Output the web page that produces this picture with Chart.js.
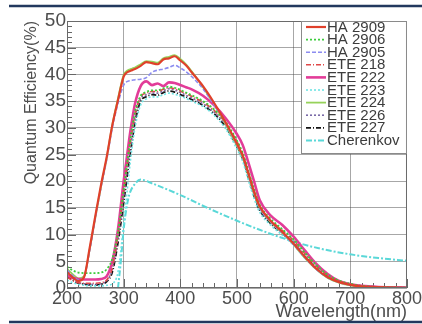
<!DOCTYPE html>
<html>
<head>
<meta charset="utf-8">
<script src="https://cdn.jsdelivr.net/npm/chart.js@4.4.0/dist/chart.umd.min.js"></script>
<style>
  html, body { margin: 0; padding: 0; background: #fff; }
  #wrap { width: 422px; height: 324px; }
</style>
</head>
<body>
<div id="wrap"><canvas id="qe-chart" width="422" height="324"></canvas></div>
<script>
// wavelength grid shared by the PMT curves (nm)
const wavelengths = [200, 210, 220, 230, 240, 250, 260, 270, 280, 290, 300, 305, 310, 315, 320, 330, 340, 350, 360, 370,
  380, 390, 400, 410, 420, 440, 460, 480, 500, 510, 520, 530, 540, 560, 580, 600, 620, 640, 660, 680, 700, 720, 750, 800];

const ha2909 = [3.0, 2.0, 1.3, 2.0, 7.5, 13.5, 19.3, 24.5, 30.5, 35.2, 39.6, 40.3, 40.6, 40.8, 41.0, 41.6, 42.3, 42.1, 41.9, 42.8,
  43.0, 43.4, 42.6, 41.7, 40.4, 37.8, 34.6, 31.0, 27.0, 24.8, 21.5, 18.0, 15.3, 12.5, 10.5, 8.3, 5.8, 3.6, 2.0, 1.1, 0.6, 0.3, 0.15, 0.05];
const ha2906 = [4.0, 3.3, 2.9, 2.8, 2.8, 2.8, 2.9, 3.5, 5.5, 10.5, 18.5, 22.5, 26.5, 30.0, 33.0, 36.0, 36.7, 37.0, 37.0, 37.4,
  37.7, 37.5, 37.1, 36.6, 36.1, 35.0, 33.4, 31.1, 27.6, 25.3, 22.0, 18.5, 15.6, 12.9, 11.0, 9.1, 6.6, 4.3, 2.5, 1.4, 0.8, 0.4, 0.2, 0.05];
const ha2905 = [3.4, 2.3, 1.5, 2.1, 7.0, 13.0, 18.8, 24.0, 30.0, 34.6, 38.0, 38.6, 38.8, 38.9, 39.0, 39.1, 39.4, 40.4, 40.8, 41.0,
  41.3, 41.7, 41.2, 40.5, 39.6, 37.3, 34.2, 30.8, 26.8, 24.5, 21.2, 17.8, 15.0, 12.3, 10.3, 8.1, 5.7, 3.5, 2.0, 1.1, 0.6, 0.3, 0.15, 0.05];
const ete218 = [2.0, 1.4, 1.0, 0.9, 0.9, 0.9, 1.0, 1.5, 3.8, 10.0, 18.0, 22.0, 26.0, 29.5, 32.5, 35.8, 36.5, 36.8, 36.8, 37.2,
  37.5, 37.3, 36.9, 36.4, 35.9, 34.8, 33.2, 30.9, 27.4, 25.1, 21.8, 18.3, 15.4, 12.7, 10.8, 8.9, 6.4, 4.1, 2.4, 1.3, 0.7, 0.35, 0.15, 0.05];
const ete222 = [2.4, 1.9, 1.7, 1.6, 1.6, 1.6, 1.7, 2.2, 5.0, 11.0, 20.0, 24.0, 28.0, 31.5, 34.5, 37.8, 38.7, 38.0, 38.3, 37.8,
  38.5, 38.4, 38.0, 37.6, 37.2, 36.0, 34.2, 31.8, 28.8, 26.8, 23.5, 20.0, 16.5, 13.5, 11.8, 9.6, 7.0, 4.5, 2.6, 1.3, 0.7, 0.4, 0.2, 0.1];
const ete223 = [1.5, 1.0, 0.7, 0.5, 0.4, 0.4, 0.4, 0.5, 0.8, 3.0, 12.0, 17.0, 22.0, 26.5, 30.0, 34.3, 35.4, 35.8, 35.8, 36.2,
  36.5, 36.3, 35.9, 35.5, 35.0, 34.0, 32.3, 29.8, 26.0, 23.7, 20.2, 16.8, 14.2, 11.7, 9.9, 8.0, 5.6, 3.5, 1.9, 1.0, 0.5, 0.25, 0.1, 0.0];
const ete224 = [3.6, 2.6, 1.8, 2.2, 7.2, 13.2, 19.0, 24.3, 30.6, 35.5, 39.9, 40.6, 40.9, 41.1, 41.3, 41.9, 42.5, 42.4, 42.2, 43.0,
  43.3, 43.6, 42.9, 41.9, 40.6, 37.6, 34.3, 30.6, 26.6, 24.4, 21.0, 17.6, 15.0, 12.3, 10.3, 8.1, 5.6, 3.5, 1.9, 1.0, 0.5, 0.25, 0.1, 0.05];
const ete226 = [2.8, 1.8, 1.0, 0.8, 0.7, 0.7, 0.8, 1.4, 3.5, 9.5, 17.0, 21.0, 25.0, 28.5, 32.0, 35.5, 36.2, 36.5, 36.5, 36.9,
  37.3, 37.1, 36.6, 36.1, 35.6, 34.5, 32.9, 30.5, 26.9, 24.6, 21.2, 17.7, 14.9, 12.3, 10.5, 8.6, 6.1, 3.9, 2.2, 1.2, 0.6, 0.3, 0.1, 0.0];
const ete227 = [2.2, 1.5, 0.9, 0.7, 0.6, 0.6, 0.7, 1.2, 3.0, 8.5, 16.0, 20.0, 24.0, 27.5, 31.0, 35.0, 35.8, 36.2, 36.1, 36.6,
  36.9, 36.7, 36.2, 35.8, 35.3, 34.2, 32.6, 30.2, 26.5, 24.2, 20.8, 17.3, 14.6, 12.0, 10.2, 8.3, 5.9, 3.7, 2.1, 1.1, 0.6, 0.3, 0.1, 0.0];

// Cherenkov spectrum (arbitrary scale) has its own sampling
const cherenkovWl = [290, 295, 300, 305, 310, 320, 330, 350, 400, 450, 500, 550, 600, 650, 700, 750, 800];
const cherenkovQE = [0, 5, 11, 15, 17.5, 19.5, 20.3, 19.6, 17.4, 14.9, 12.6, 10.5, 8.7, 7.3, 6.3, 5.6, 5.1];

const xTicks = [200, 300, 400, 500, 600, 700, 800];
const yTicks = [0, 5, 10, 15, 20, 25, 30, 35, 40, 45, 50];

const FONT = "'Liberation Sans', Arial, sans-serif";
const TEXT = '#4d4d4d';

function points(xs, ys) {
  return xs.map((x, i) => ({ x, y: ys[i] }));
}

function series(label, values, color, width, dash, xs = wavelengths) {
  return {
    label,
    data: points(xs, values),
    borderColor: color,
    backgroundColor: color,
    borderWidth: width,
    borderDash: dash,
    pointRadius: 0,
    fill: false,
    cubicInterpolationMode: 'monotone',
  };
}

const datasets = [
  series('HA 2909', ha2909, '#e0402a', 2.2, []),
  series('HA 2906', ha2906, '#3ccc3c', 1.8, [2, 2]),
  series('HA 2905', ha2905, '#8c8cf0', 1.6, [4, 2]),
  series('ETE 218', ete218, '#e04848', 1.6, [5, 2, 1, 2]),
  series('ETE 222', ete222, '#e23c98', 2.6, []),
  series('ETE 223', ete223, '#70e4e4', 1.6, [2, 2]),
  series('ETE 224', ete224, '#96d25a', 1.8, []),
  series('ETE 226', ete226, '#7a6aa8', 1.6, [2, 2]),
  series('ETE 227', ete227, '#151515', 1.8, [5, 2, 1, 2]),
  series('Cherenkov', cherenkovQE, '#5ad8d8', 2.0, [6, 2, 2, 2], cherenkovWl),
];

const decorPlugin = {
  id: 'decor',
  beforeDraw(chart) {
    const ctx = chart.ctx;
    ctx.save();
    ctx.fillStyle = '#fff';
    ctx.fillRect(0, 0, chart.width, chart.height);
    ctx.restore();
  },
  beforeDatasetsDraw(chart) {
    // ROOT-style inward ticks
    const { ctx, chartArea: a, scales: { x, y } } = chart;
    ctx.save();
    ctx.strokeStyle = '#666';
    ctx.lineWidth = 1;
    ctx.beginPath();
    for (let nm = 200; nm <= 800; nm += 20) {
      const px = Math.round(x.getPixelForValue(nm)) + 0.5;
      const len = nm % 100 === 0 ? 9 : 5;
      ctx.moveTo(px, a.bottom);
      ctx.lineTo(px, a.bottom - len);
    }
    for (let v = 0; v <= 50; v += 1) {
      const py = Math.round(y.getPixelForValue(v)) + 0.5;
      const len = v % 5 === 0 ? 9 : 5;
      ctx.moveTo(a.left, py);
      ctx.lineTo(a.left + len, py);
    }
    ctx.stroke();
    ctx.restore();
  },
  afterDraw(chart) {
    const { ctx, chartArea: a } = chart;
    ctx.save();
    ctx.strokeStyle = '#6a6a6a';
    ctx.lineWidth = 1;
    ctx.strokeRect(a.left + 0.5, a.top + 0.5, a.right - a.left - 1, a.bottom - a.top - 1);

    // page rules above and below
    ctx.strokeStyle = '#22385e';
    ctx.lineWidth = 2.5;
    ctx.beginPath();
    ctx.moveTo(9, 6); ctx.lineTo(422, 6);
    ctx.moveTo(9, 322); ctx.lineTo(422, 322);
    ctx.stroke();

    // legend box inside the plot
    const boxL = 301, boxT = a.top, boxR = a.right, boxB = 154;
    ctx.fillStyle = '#fff';
    ctx.fillRect(boxL, boxT, boxR - boxL, boxB - boxT);
    ctx.strokeStyle = '#8a8a8a';
    ctx.lineWidth = 1;
    ctx.strokeRect(boxL + 0.5, boxT + 0.5, boxR - boxL - 1, boxB - boxT - 1);
    ctx.font = '15px ' + FONT;
    ctx.textBaseline = 'middle';
    ctx.textAlign = 'left';
    chart.data.datasets.forEach((ds, i) => {
      const cy = 27 + i * 12.6;
      ctx.strokeStyle = ds.borderColor;
      ctx.lineWidth = ds.borderWidth;
      ctx.setLineDash(ds.borderDash || []);
      ctx.beginPath();
      ctx.moveTo(306, cy);
      ctx.lineTo(326, cy);
      ctx.stroke();
      ctx.setLineDash([]);
      ctx.fillStyle = '#3c3c3c';
      ctx.fillText(ds.label, 327, cy + 0.5);
    });
    ctx.restore();
  },
};

new Chart(document.getElementById('qe-chart'), {
  type: 'line',
  data: { datasets },
  plugins: [decorPlugin],
  options: {
    responsive: false,
    devicePixelRatio: 1,
    animation: false,
    layout: { padding: { top: 21, right: 15, left: 0, bottom: 0 } },
    plugins: {
      legend: { display: false },
      tooltip: { enabled: false },
    },
    scales: {
      x: {
        type: 'linear',
        min: 200,
        max: 800,
        afterFit(scale) { scale.height = 36; },
        afterBuildTicks(scale) { scale.ticks = xTicks.map(value => ({ value })); },
        grid: { color: 'rgba(80, 80, 80, 0.5)', drawTicks: false },
        border: { display: false },
        ticks: {
          autoSkip: false,
          maxRotation: 0,
          padding: 0,
          color: TEXT,
          font: { family: FONT, size: 18 },
        },
        title: {
          display: true,
          text: 'Wavelength(nm)',
          align: 'end',
          color: TEXT,
          padding: { top: 0, bottom: 1 },
          font: { family: FONT, size: 18 },
        },
      },
      y: {
        min: 0,
        max: 50,
        afterFit(scale) { scale.width = 67; },
        afterBuildTicks(scale) { scale.ticks = yTicks.map(value => ({ value })); },
        grid: { color: 'rgba(80, 80, 80, 0.5)', drawTicks: false },
        border: { display: false },
        ticks: {
          padding: 1,
          color: TEXT,
          font: { family: FONT, size: 19 },
        },
        title: {
          display: true,
          text: 'Quantum Efficiency(%)',
          align: 'end',
          color: TEXT,
          padding: { top: 22, bottom: 0 },
          font: { family: FONT, size: 16 },
        },
      },
    },
  },
});
</script>
</body>
</html>
